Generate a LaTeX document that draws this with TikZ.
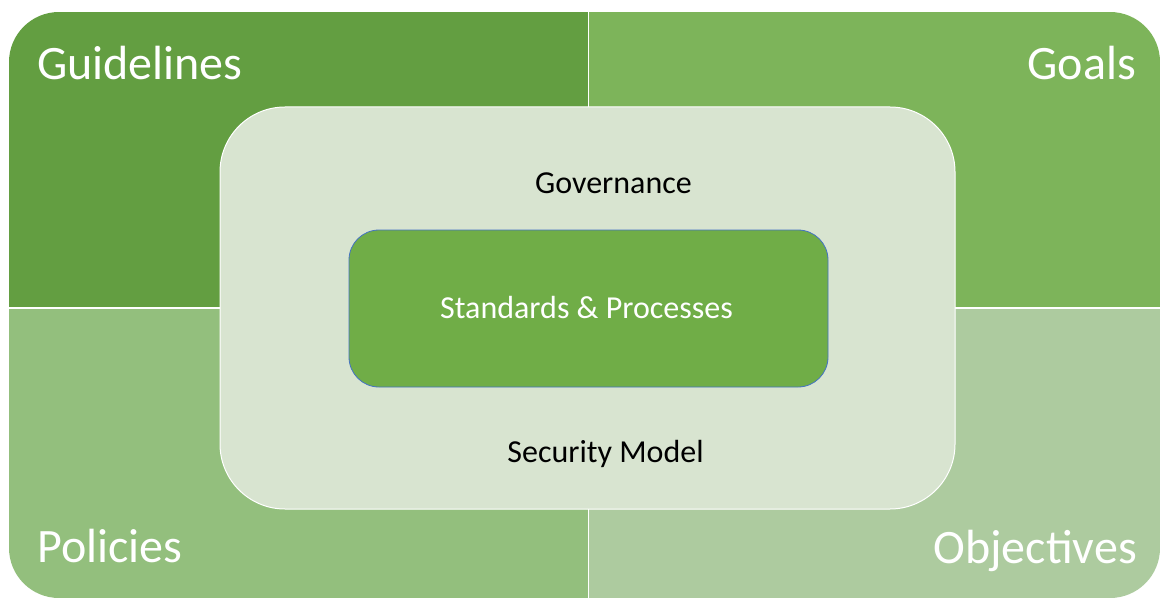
\documentclass[tikz,border=0pt]{standalone}
\usepackage{fontspec}
\setmainfont{Carlito}
\usepackage{tikz}
\usetikzlibrary{positioning}
\definecolor{guideGreen}{RGB}{99,158,65}
\definecolor{goalGreen}{RGB}{125,180,90}
\definecolor{policyGreen}{RGB}{147,191,125}
\definecolor{objGreen}{RGB}{173,203,159}
\definecolor{govGreen}{RGB}{216,228,208}
\definecolor{stdGreen}{RGB}{112,173,71}
\definecolor{stdBlue}{RGB}{68,114,196}
\tikzset{
  corner/.style={text=white, inner sep=0pt, font=\fontsize{48}{48}\selectfont},
  inner/.style={inner sep=0pt, font=\fontsize{32}{32}\selectfont}
}

\begin{document}
\begin{tikzpicture}[x=1pt, y=-1pt]
\useasboundingbox (0,0) rectangle (1161,599);
\begin{scope}
\clip[rounded corners=50] (9,12) rectangle (1160,598);
\fill[guideGreen] (9,12) rectangle (588,308);
\fill[goalGreen] (588,12) rectangle (1160,308);
\fill[policyGreen] (9,308) rectangle (588,598);
\fill[objGreen] (588,308) rectangle (1160,598);
\end{scope}
\draw[white, line width=1.5] (588.5,12) -- (588.5,598);
\draw[white, line width=1.5] (9,308) -- (1160,308);
\node[corner, anchor=base west] (G) at (37,80) {Guidelines};
\node[corner, anchor=base east] (G1) at (1136,80) {Goals};
\node[corner, anchor=base west] (P) at (37,562) {Policies};
\node[corner, anchor=base east] (O) at (1137,563) {Objectives};
\node[fill=govGreen, draw=white, line width=1, rounded corners=65, minimum width=735, minimum height=402] (B) at (587.5,308) {};
\node[fill=stdGreen, draw=stdBlue, line width=0.8, rounded corners=30, minimum width=479, minimum height=157] (S) at (588.5,308.5) {};
\node[inner, anchor=base] (B1) at (613.5,193) {Governance};
\node[inner, anchor=base] (B2) at (605.5,462) {Security Model};
\node[inner, text=white, anchor=base] (S1) at (586.5,318) {Standards \& Processes};
    \end{tikzpicture}
\end{document}
